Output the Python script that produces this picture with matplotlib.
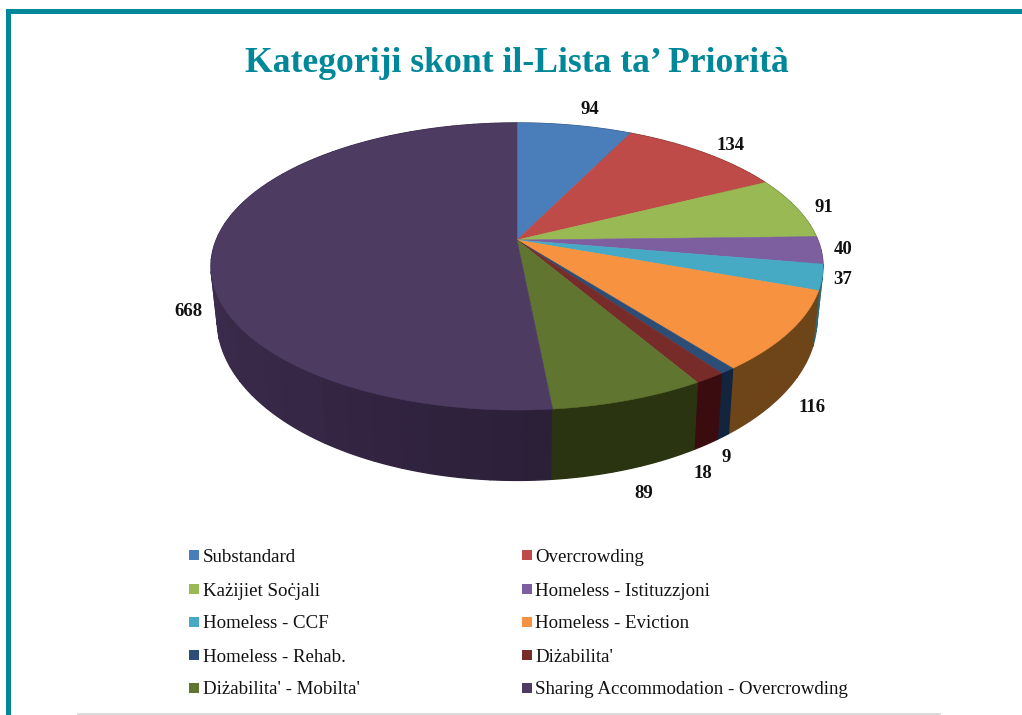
"""Kategoriji skont il-Lista ta' Priorita: perspective pie with side wall."""

import numpy as np
import matplotlib
matplotlib.use("Agg")
import matplotlib.pyplot as plt
from matplotlib.patches import Polygon, Rectangle

CATEGORIES = ["Substandard", "Overcrowding", "Każijiet Soċjali", "Homeless - Istituzzjoni",
              "Homeless - CCF", "Homeless - Eviction", "Homeless - Rehab.", "Diżabilita'",
              "Diżabilita' - Mobilta'", "Sharing Accommodation - Overcrowding"]
VALUES = [94, 134, 91, 40, 37, 116, 9, 18, 89, 668]
TITLE = "Kategoriji skont il-Lista ta’ Priorità"

TOP_COLORS = ["#4a7ebb", "#be4b48", "#98b954", "#7d5fa0", "#46aac5",
              "#f69240", "#2c4d75", "#772c2a", "#5f7530", "#4d3b62"]
WALL_COLORS = ["#2c4d75", "#772c2a", "#5f7530", "#4d3b62", "#2a6a7a",
               "#6e4419", "#12243e", "#3a0c10", "#2a3410", "#2c2039"]
TEAL = "#00889a"

# pixel layout
LABEL_POS = [(590, 110), (731, 146), (824, 208), (843, 249), (843, 279),
             (812, 408), (726, 458), (703, 473), (644, 494), (188, 311)]
LEGEND_COLS = [(189, 203), (522, 535)]
LEGEND_ROWS = [557, 591, 624, 657, 690]

# perspective of the disc: apex, radius, foreshortening
CX, APEX_Y = 517, 240
R, A, K = 300.7, 138.6, 0.1847
# bottom rim relative to the top rim
BOTTOM_Y, SCALE_X, SCALE_Y = 290, 0.98, 1.12


def top_rim(t):
    w = 1 + K * np.cos(t)
    return CX + R * np.sin(t) / w, APEX_Y - A * np.cos(t) / w


def bottom_rim(t):
    x, y = top_rim(t)
    return CX + SCALE_X * (x - CX), BOTTOM_Y + SCALE_Y * (y - APEX_Y)


def shade(color, factor):
    rgb = np.array(matplotlib.colors.to_rgb(color)) * factor
    return tuple(np.clip(rgb, 0, 1))


def main():
    fig = plt.figure(figsize=(10.22, 7.15), dpi=100)
    ax = fig.add_axes([0, 0, 1, 1])
    ax.set_xlim(0, 1022)
    ax.set_ylim(715, 0)
    ax.axis("off")

    # page frame
    ax.add_patch(Rectangle((6, 9), 1016, 5, color=TEAL, lw=0))
    ax.add_patch(Rectangle((6, 9), 5, 706, color=TEAL, lw=0))
    ax.plot([78, 940], [714, 714], color="#d4d4d4", lw=1.2)

    ax.text(517, 64, TITLE, color=TEAL, family="Liberation Serif", weight="bold",
            fontsize=25.7, ha="center", va="center")

    edges = np.cumsum([0] + VALUES) / sum(VALUES) * 2 * np.pi

    # walls first, the top face hides what is behind it
    order = np.argsort([abs(np.pi - (edges[j] + edges[j + 1]) / 2) for j in range(len(VALUES))])[::-1]
    for i in order:
        n = max(2, int((edges[i + 1] - edges[i]) * 12))
        ts = np.linspace(edges[i], edges[i + 1], n + 1)
        for t0, t1 in zip(ts[:-1], ts[1:]):
            tt = np.linspace(t0, t1, 12)
            xt, yt = top_rim(tt)
            xb, yb = bottom_rim(tt)
            pts = np.column_stack([np.r_[xt, xb[::-1]], np.r_[yt, yb[::-1]]])
            factor = 1 + 0.35 * max(0, -np.sin((t0 + t1) / 2))
            c = shade(WALL_COLORS[i], factor)
            ax.add_patch(Polygon(pts, closed=True, fc=c, ec=c, lw=1.0, zorder=2))

    # top face
    for i, color in enumerate(TOP_COLORS):
        ts = np.linspace(edges[i], edges[i + 1], 120)
        x, y = top_rim(ts)
        pts = np.column_stack([np.r_[CX, x], np.r_[APEX_Y, y]])
        ax.add_patch(Polygon(pts, closed=True, fc=color, ec=color, lw=0.4, zorder=3))

    for val, (x, y) in zip(VALUES, LABEL_POS):
        ax.text(x, y, str(val), family="Liberation Serif", weight="bold", fontsize=13.5,
                color="#111111", ha="center", va="center", zorder=4)

    # legend, filled row by row
    for i, (name, color) in enumerate(zip(CATEGORIES, TOP_COLORS)):
        row, col = divmod(i, 2)
        x_box, x_txt = LEGEND_COLS[col]
        y = LEGEND_ROWS[row]
        ax.add_patch(Rectangle((x_box, y - 7), 10, 10, color=color, lw=0))
        ax.text(x_txt, y, name, family="Liberation Serif", fontsize=13.6, color="#111111",
                ha="left", va="center")

    fig.savefig("out.png", dpi=100)
    plt.close(fig)


if __name__ == "__main__":
    main()
